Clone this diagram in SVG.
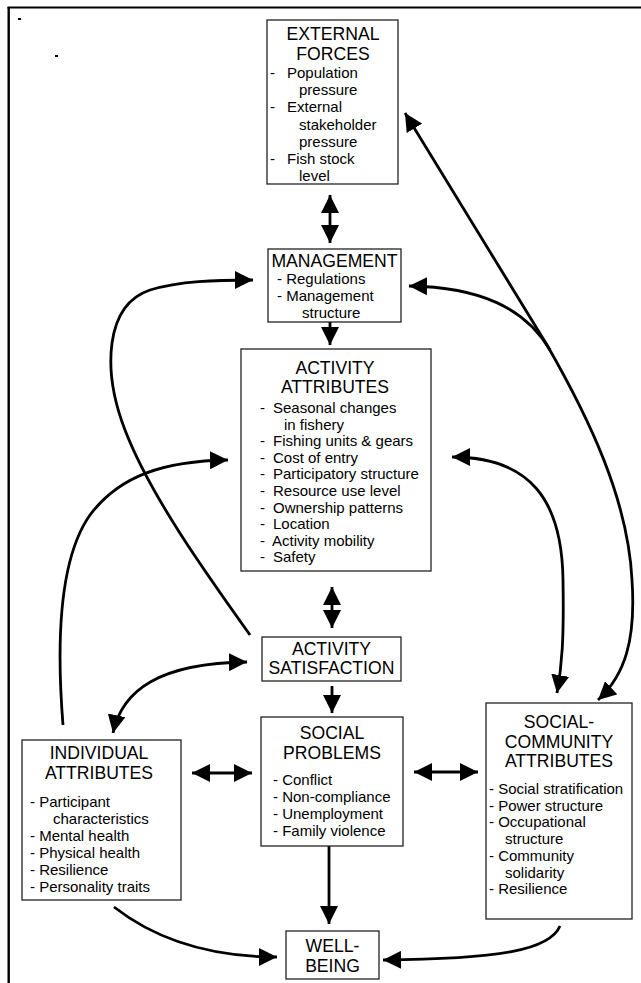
<svg xmlns="http://www.w3.org/2000/svg" width="641" height="983" viewBox="0 0 641 983">
<style>
.box{fill:#fff;stroke:#222;stroke-width:1.3}
.h{font-family:"Liberation Sans",Arial,sans-serif;font-size:17.6px;text-anchor:middle;fill:#000}
.t{font-family:"Liberation Sans",Arial,sans-serif;font-size:15px;fill:#000}
.c{fill:none;stroke:#000;stroke-width:2.8}
</style>
<defs>
<marker id="ah" viewBox="0 0 18 18" refX="18" refY="9" markerWidth="18" markerHeight="18" markerUnits="userSpaceOnUse" orient="auto-start-reverse">
<path d="M0,0 L18,9 L0,18 z" fill="#000"/>
</marker>
</defs>
<rect width="641" height="983" fill="#fff"/>
<g id="frame">
<line x1="7.5" y1="7.5" x2="641" y2="7.5" stroke="#000" stroke-width="2"/>
<line x1="8.7" y1="7" x2="8.7" y2="983" stroke="#000" stroke-width="2.4"/>
<rect x="18" y="18" width="3" height="2" fill="#000"/>
<rect x="55" y="55" width="3" height="2" fill="#000"/>
</g>
<g id="connectors">
<path class="c" d="M330 195 L330 243" marker-start="url(#ah)" marker-end="url(#ah)"/>
<path class="c" d="M330 322 L330 345" marker-end="url(#ah)"/>
<path class="c" d="M332 587 L332 628" marker-start="url(#ah)" marker-end="url(#ah)"/>
<path class="c" d="M332 686 L332 713" marker-end="url(#ah)"/>
<path class="c" d="M329 846 L329 924" marker-end="url(#ah)"/>
<path class="c" d="M192 773 L252 773" marker-start="url(#ah)" marker-end="url(#ah)"/>
<path class="c" d="M414 772 L478 772" marker-start="url(#ah)" marker-end="url(#ah)"/>
<path class="c" d="M250 635 C205 572 150 495 125 430 C102 370 105 305 150 290 C180 281 215 280 253 280" marker-end="url(#ah)"/>
<path class="c" d="M63 725 C57 650 58 560 90 515 C120 475 165 461 228 460" marker-end="url(#ah)"/>
<path class="c" d="M113 733 C122 690 160 663 247 662" marker-start="url(#ah)" marker-end="url(#ah)"/>
<path class="c" d="M598 700 C625 675 636 640 632 580 C628 500 590 420 547 345 L405 113" marker-start="url(#ah)" marker-end="url(#ah)"/>
<path class="c" d="M550 350 C525 308 480 287 409 286" marker-end="url(#ah)"/>
<path class="c" d="M452 457 C530 457 562 500 563 580 C564 640 562 665 557 693" marker-start="url(#ah)" marker-end="url(#ah)"/>
<path class="c" d="M114 907 C150 935 200 957 277 957" marker-end="url(#ah)"/>
<path class="c" d="M560 926 C550 950 500 959 383 960" marker-end="url(#ah)"/>
</g>
<g id="external-forces">
<rect class="box" x="267" y="20" width="131" height="164"/>
<text class="h" x="333" y="39.5">EXTERNAL</text>
<text class="h" x="333" y="60">FORCES</text>
<text class="t" x="270" y="78">-</text>
<text class="t" x="287" y="78">Population</text>
<text class="t" x="299" y="95.2">pressure</text>
<text class="t" x="270" y="112.4">-</text>
<text class="t" x="287" y="112.4">External</text>
<text class="t" x="299" y="129.6">stakeholder</text>
<text class="t" x="299" y="146.8">pressure</text>
<text class="t" x="270" y="164">-</text>
<text class="t" x="287" y="164">Fish stock</text>
<text class="t" x="299" y="181.2">level</text>
</g>
<g id="management">
<rect class="box" x="268" y="249" width="133" height="73"/>
<text class="h" x="334.5" y="267">MANAGEMENT</text>
<text class="t" x="277" y="284">- Regulations</text>
<text class="t" x="277" y="301">- Management</text>
<text class="t" x="302" y="318">structure</text>
</g>
<g id="activity-attributes">
<rect class="box" x="241" y="349" width="190" height="222"/>
<text class="h" x="335" y="374">ACTIVITY</text>
<text class="h" x="335" y="393">ATTRIBUTES</text>
<text class="t" x="260" y="413">-</text><text class="t" x="273" y="413">Seasonal changes</text>
<text class="t" x="284" y="429.6">in fishery</text>
<text class="t" x="260" y="446.2">-</text><text class="t" x="273" y="446.2">Fishing units &amp; gears</text>
<text class="t" x="260" y="462.8">-</text><text class="t" x="273" y="462.8">Cost of entry</text>
<text class="t" x="260" y="479.4">-</text><text class="t" x="273" y="479.4">Participatory structure</text>
<text class="t" x="260" y="496">-</text><text class="t" x="273" y="496">Resource use level</text>
<text class="t" x="260" y="512.6">-</text><text class="t" x="273" y="512.6">Ownership patterns</text>
<text class="t" x="260" y="529.2">-</text><text class="t" x="273" y="529.2">Location</text>
<text class="t" x="260" y="545.8">-</text><text class="t" x="272" y="545.8">Activity mobility</text>
<text class="t" x="260" y="562.4">-</text><text class="t" x="273" y="562.4">Safety</text>
</g>
<g id="activity-satisfaction">
<rect class="box" x="262" y="637" width="139" height="44"/>
<text class="h" x="331.5" y="655">ACTIVITY</text>
<text class="h" x="331.5" y="674">SATISFACTION</text>
</g>
<g id="social-problems">
<rect class="box" x="261" y="717" width="142" height="129"/>
<text class="h" x="332" y="739">SOCIAL</text>
<text class="h" x="332" y="759">PROBLEMS</text>
<text class="t" x="273" y="785">- Conflict</text>
<text class="t" x="273" y="802">- Non-compliance</text>
<text class="t" x="273" y="819">- Unemployment</text>
<text class="t" x="273" y="836">- Family violence</text>
</g>
<g id="individual-attributes">
<rect class="box" x="22" y="740" width="159" height="160"/>
<text class="h" x="99" y="759">INDIVIDUAL</text>
<text class="h" x="99" y="779">ATTRIBUTES</text>
<text class="t" x="30" y="807">- Participant</text>
<text class="t" x="53" y="824">characteristics</text>
<text class="t" x="30" y="841">- Mental health</text>
<text class="t" x="30" y="858">- Physical health</text>
<text class="t" x="30" y="875">- Resilience</text>
<text class="t" x="30" y="892">- Personality traits</text>
</g>
<g id="social-community-attributes">
<rect class="box" x="486" y="703" width="146" height="216"/>
<text class="h" x="559" y="728">SOCIAL-</text>
<text class="h" x="559" y="748">COMMUNITY</text>
<text class="h" x="559" y="767">ATTRIBUTES</text>
<text class="t" x="489" y="794">- Social stratification</text>
<text class="t" x="489" y="810.7">- Power structure</text>
<text class="t" x="489" y="827.4">- Occupational</text>
<text class="t" x="505" y="844">structure</text>
<text class="t" x="489" y="860.8">- Community</text>
<text class="t" x="505" y="877.5">solidarity</text>
<text class="t" x="489" y="894">- Resilience</text>
</g>
<g id="well-being">
<rect class="box" x="286" y="931" width="93" height="48"/>
<text class="h" x="332.5" y="951.5">WELL-</text>
<text class="h" x="332.5" y="971.5">BEING</text>
</g>
</svg>
